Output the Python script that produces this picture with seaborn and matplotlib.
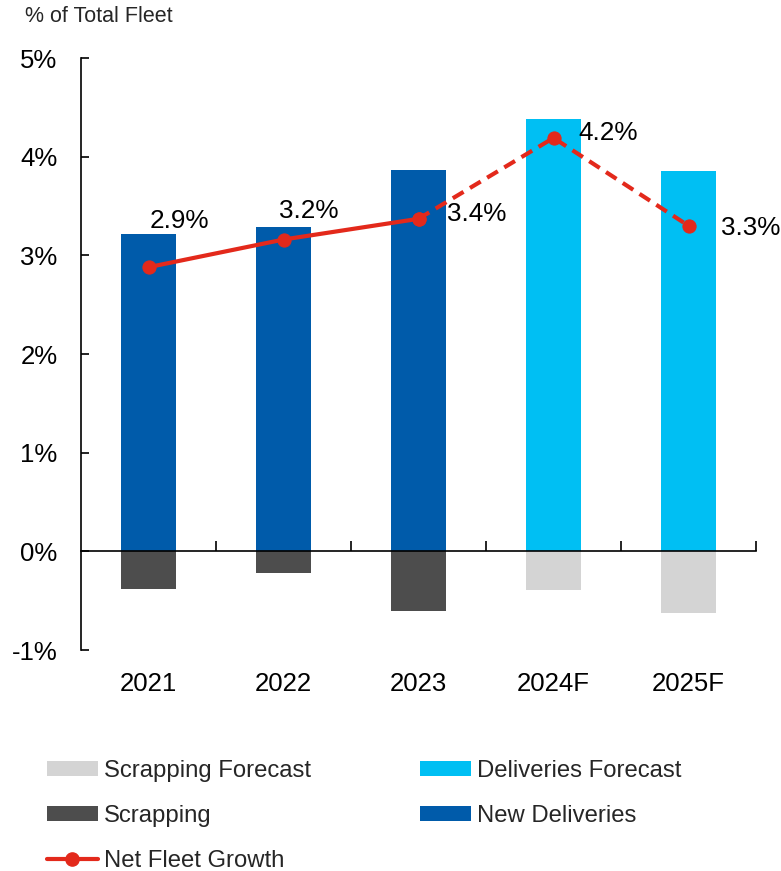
import numpy as np
import pandas as pd
import matplotlib
matplotlib.use("Agg")
import matplotlib.pyplot as plt
import seaborn as sns
from matplotlib.patches import Patch
from matplotlib.lines import Line2D

# ---------------- data ----------------
years = ["2021", "2022", "2023", "2024F", "2025F"]
deliveries = [3.22, 3.29, 3.86, 4.38, 3.85]
scrapping = [-0.38, -0.22, -0.60, -0.39, -0.63]
net_growth = [2.88, 3.16, 3.37, 4.19, 3.30]
net_labels = ["2.9%", "3.2%", "3.4%", "4.2%", "3.3%"]
is_forecast = [False, False, False, True, True]
y_ticks = [-1, 0, 1, 2, 3, 4, 5]
y_tick_labels = ["-1%", "0%", "1%", "2%", "3%", "4%", "5%"]
y_title = "% of Total Fleet"

# ---------------- style ----------------
C_NEW = "#005BAA"
C_DELF = "#00BFF3"
C_SCR = "#4D4D4D"
C_SCRF = "#D4D4D4"
C_RED = "#E3291B"

sns.set_theme(style="white")
plt.rcParams["font.family"] = ["Liberation Sans", "DejaVu Sans"]

df = pd.DataFrame({
    "year": years,
    "deliveries": deliveries,
    "scrapping": scrapping,
    "net": net_growth,
    "forecast": is_forecast,
})
df["del_kind"] = np.where(df["forecast"], "Deliveries Forecast", "New Deliveries")
df["scr_kind"] = np.where(df["forecast"], "Scrapping Forecast", "Scrapping")

fig = plt.figure(figsize=(7.81, 8.71), dpi=100)
ax = fig.add_axes([81 / 781, 1 - 650 / 871, 675 / 781, 592 / 871])

sns.barplot(data=df, x="year", y="deliveries", hue="del_kind",
            palette={"New Deliveries": C_NEW, "Deliveries Forecast": C_DELF},
            dodge=False, width=0.41, saturation=1, linewidth=0,
            legend=False, ax=ax, order=years)
sns.barplot(data=df, x="year", y="scrapping", hue="scr_kind",
            palette={"Scrapping": C_SCR, "Scrapping Forecast": C_SCRF},
            dodge=False, width=0.41, saturation=1, linewidth=0,
            legend=False, ax=ax, order=years)

pos = np.arange(len(years))
last_actual = max(i for i, f in enumerate(is_forecast) if not f)
net_arr = np.array(net_growth)

# dashed forecast part
sns.lineplot(x=pos[last_actual:], y=net_arr[last_actual:], ax=ax, color=C_RED,
             linewidth=3.0, linestyle=(0, (3, 1.8)), marker="o", markersize=9.5,
             markeredgecolor=C_RED, markerfacecolor=C_RED, zorder=4)
# solid actual part
sns.lineplot(x=pos[:last_actual + 1], y=net_arr[:last_actual + 1], ax=ax, color=C_RED,
             linewidth=3.0, marker="o", markersize=9.5,
             markeredgecolor=C_RED, markerfacecolor=C_RED, zorder=5)

# value labels (offsets in pixels converted to points)
offsets_px = [(1, 46), (-5, 29), (29, 5), (25, 5), (33, -2)]
for x, y, lab, (dx, dy) in zip(pos, net_growth, net_labels, offsets_px):
    ax.annotate(lab, (x, y), xytext=(dx * 0.72, dy * 0.72), textcoords="offset points",
                ha="left", va="center", fontsize=18.8, color="black", zorder=6)

# axes
ax.set_xlim(-0.5, len(years) - 0.5)
ax.set_ylim(y_ticks[0], y_ticks[-1])
ax.set_yticks(y_ticks)
ax.set_yticklabels(y_tick_labels)
ax.set_xlabel("")
ax.set_ylabel("")

for s in ["top", "right"]:
    ax.spines[s].set_visible(False)
ax.spines["left"].set_color("black")
ax.spines["left"].set_linewidth(1.2)
ax.spines["bottom"].set_color("black")
ax.spines["bottom"].set_linewidth(1.2)
ax.spines["bottom"].set_position(("data", 0))

ax.set_xticks(pos + 0.5)
ax.set_xticklabels([""] * len(years))
ax.set_xticks(pos, minor=True)
ax.set_xticklabels(years, minor=True)
ax.tick_params(axis="x", which="major", direction="in", length=7, width=1.2,
               color="black", bottom=True)
ax.tick_params(axis="x", which="minor", length=0, pad=87, labelsize=18.5,
               labelcolor="black", bottom=True)
ax.tick_params(axis="y", which="major", direction="in", length=6, width=1.2,
               color="black", pad=17, labelsize=18.5, labelcolor="black", left=True)
ax.grid(False)

fig.text(25 / 781, 1 - 16 / 871, y_title, fontsize=15.5, ha="left", va="center")

# legend (row-wise order with 2 columns)
h_sf = Patch(facecolor=C_SCRF, edgecolor="none", label="Scrapping Forecast")
h_df = Patch(facecolor=C_DELF, edgecolor="none", label="Deliveries Forecast")
h_s = Patch(facecolor=C_SCR, edgecolor="none", label="Scrapping")
h_nd = Patch(facecolor=C_NEW, edgecolor="none", label="New Deliveries")
h_net = Line2D([], [], color=C_RED, linewidth=3.0, marker="o", markersize=9.5,
               label="Net Fleet Growth")
handles = [h_sf, h_s, h_net, h_df, h_nd]
fig.legend(handles=handles, labels=[h.get_label() for h in handles], ncol=2,
           loc="upper left", bbox_to_anchor=(47 / 781, 1 - 760 / 871),
           frameon=False, fontsize=17.2, handlelength=2.13, handleheight=0.59,
           handletextpad=0.25, columnspacing=4.56, labelspacing=0.96,
           borderpad=0, borderaxespad=0)

fig.savefig("out.png", dpi=100)
